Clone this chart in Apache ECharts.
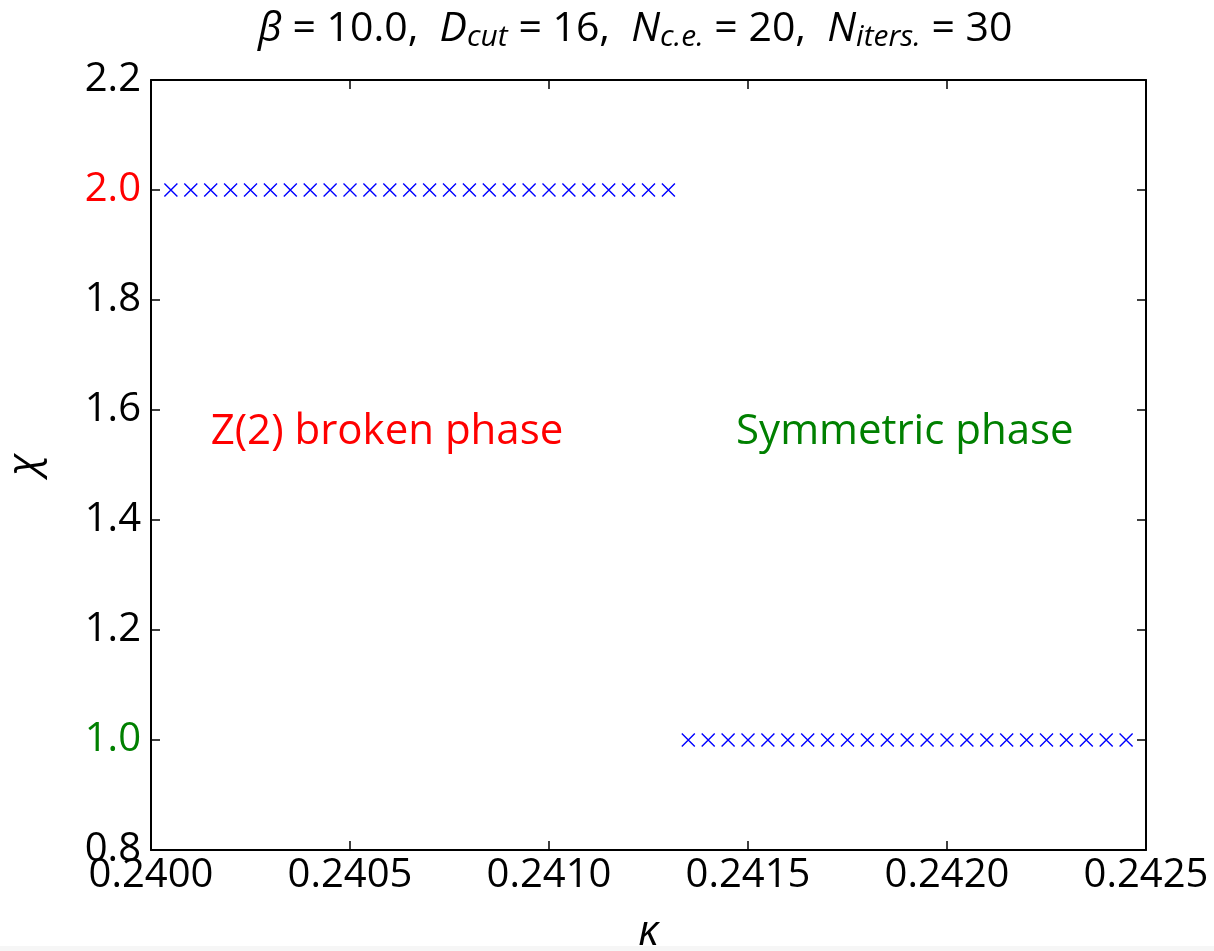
<!DOCTYPE html>
<html>
<head>
<meta charset="utf-8">
<title>chi vs kappa</title>
<script src="https://cdn.jsdelivr.net/npm/echarts@6.0.0/dist/echarts.min.js"></script>
<style>
  html, body { margin: 0; padding: 0; background: #fff; }
  #chart { width: 1214px; height: 951px; }
</style>
</head>
<body>
<div id="chart"></div>
<script>
// broken phase points (chi = 2)
const kappaBroken = [
  0.24005, 0.24010, 0.24015, 0.24020, 0.24025, 0.24030, 0.24035, 0.24040, 0.24045,
  0.24050, 0.24055, 0.24060, 0.24065, 0.24070, 0.24075, 0.24080, 0.24085, 0.24090,
  0.24095, 0.24100, 0.24105, 0.24110, 0.24115, 0.24120, 0.24125, 0.24130
]
const chiBroken = [
  2, 2, 2, 2, 2, 2, 2, 2, 2, 2, 2, 2, 2, 2, 2, 2, 2, 2, 2, 2, 2, 2, 2, 2, 2, 2
]
// symmetric phase points (chi = 1)
const kappaSym = [
  0.24135, 0.24140, 0.24145, 0.24150, 0.24155, 0.24160, 0.24165, 0.24170, 0.24175,
  0.24180, 0.24185, 0.24190, 0.24195, 0.24200, 0.24205, 0.24210, 0.24215, 0.24220,
  0.24225, 0.24230, 0.24235, 0.24240, 0.24245
]
const chiSym = [
  1, 1, 1, 1, 1, 1, 1, 1, 1, 1, 1, 1, 1, 1, 1, 1, 1, 1, 1, 1, 1, 1, 1
]

// annotations: [kappa, chi, text, colour]
const notes = [
  [0.24015, 1.56, 'Z(2) broken phase', '#ff0000'],
  [0.24147, 1.56, 'Symmetric phase', '#008000']
]

const xMin = 0.2400, xMax = 0.2425, xStep = 0.0005
const yMin = 0.8, yMax = 2.2, yStep = 0.2

const FONT = 'Open Sans'
const TICK_FONT = 40
const crossSymbol = 'path://M0,0L10,10M10,0L0,10'

function pairs(xs, ys) {
  return xs.map((x, i) => [x, ys[i]])
}

const frameLine = { show: true, onZero: false, lineStyle: { color: '#000', width: 2 } }
const innerTick = { show: true, inside: true, length: 9, lineStyle: { color: '#000', width: 1.5 } }
const crossStyle = { color: 'none', borderColor: '#0000ff', borderWidth: 1.4, opacity: 1 }

const myChart = echarts.init(document.getElementById('chart'))

const option = {
  animation: false,
  title: {
    text: '{i|β} = 10.0,  {i|D}{s|cut} = 16,  {i|N}{s|c.e.} = 20,  {i|N}{s|iters.} = 30',
    left: 253,
    top: 2,
    textStyle: {
      fontFamily: FONT,
      fontSize: 41,
      fontWeight: 'normal',
      color: '#000',
      lineHeight: 45,
      rich: {
        i: { fontFamily: FONT, fontSize: 41, fontStyle: 'italic', color: '#000', lineHeight: 45 },
        s: { fontFamily: FONT, fontSize: 30, fontStyle: 'italic', color: '#000', lineHeight: 22, verticalAlign: 'bottom' }
      }
    }
  },
  grid: { left: 151, right: 68, top: 80, bottom: 101, outerBoundsMode: 'none' },
  // light strip along the lower edge of the picture
  graphic: [
    {
      type: 'rect',
      left: 0,
      bottom: 0,
      z: 100,
      shape: { width: 1214, height: 5 },
      style: { fill: '#f6f6f6' }
    }
  ],
  xAxis: [
    {
      type: 'value',
      min: xMin,
      max: xMax,
      interval: xStep,
      position: 'bottom',
      name: 'κ',
      nameLocation: 'middle',
      nameGap: 62,
      nameTextStyle: { fontFamily: FONT, fontSize: 42, fontStyle: 'italic', color: '#000' },
      axisLine: frameLine,
      axisTick: innerTick,
      splitLine: { show: false },
      axisLabel: {
        fontFamily: FONT,
        fontSize: TICK_FONT,
        color: '#000',
        margin: 6,
        showMinLabel: true,
        showMaxLabel: true,
        hideOverlap: false,
        formatter: v => v.toFixed(4)
      }
    },
    {
      type: 'value',
      min: xMin,
      max: xMax,
      interval: xStep,
      position: 'top',
      axisLine: frameLine,
      axisTick: innerTick,
      axisLabel: { show: false },
      splitLine: { show: false }
    }
  ],
  yAxis: [
    {
      type: 'value',
      min: yMin,
      max: yMax,
      interval: yStep,
      position: 'left',
      name: 'χ',
      nameLocation: 'middle',
      nameGap: 105,
      nameTextStyle: { fontFamily: FONT, fontSize: 42, fontStyle: 'italic', color: '#000' },
      axisLine: frameLine,
      axisTick: innerTick,
      splitLine: { show: false },
      axisLabel: {
        fontFamily: FONT,
        fontSize: TICK_FONT,
        margin: 10,
        showMinLabel: true,
        showMaxLabel: true,
        formatter: v => {
          const s = v.toFixed(1)
          if (s === '2.0') return '{r|' + s + '}'
          if (s === '1.0') return '{g|' + s + '}'
          return '{k|' + s + '}'
        },
        rich: {
          r: { fontFamily: FONT, fontSize: TICK_FONT, color: '#ff0000' },
          g: { fontFamily: FONT, fontSize: TICK_FONT, color: '#008000' },
          k: { fontFamily: FONT, fontSize: TICK_FONT, color: '#000' }
        }
      }
    },
    {
      type: 'value',
      min: yMin,
      max: yMax,
      interval: yStep,
      position: 'right',
      axisLine: frameLine,
      axisTick: innerTick,
      axisLabel: { show: false },
      splitLine: { show: false }
    }
  ],
  series: [
    {
      type: 'scatter',
      data: pairs(kappaBroken, chiBroken),
      symbol: crossSymbol,
      symbolSize: 13,
      itemStyle: crossStyle
    },
    {
      type: 'scatter',
      data: pairs(kappaSym, chiSym),
      symbol: crossSymbol,
      symbolSize: 13,
      itemStyle: crossStyle
    },
    {
      type: 'scatter',
      symbolSize: 0,
      silent: true,
      itemStyle: { opacity: 1 },
      data: notes.map(n => ({
        value: [n[0], n[1]],
        label: {
          show: true,
          position: [0, 0],
          align: 'left',
          verticalAlign: 'middle',
          formatter: n[2],
          fontFamily: FONT,
          fontSize: 42,
          color: n[3]
        }
      }))
    }
  ]
}

myChart.setOption(option, true)
window.addEventListener('resize', () => { myChart.resize() })
</script>
</body>
</html>
